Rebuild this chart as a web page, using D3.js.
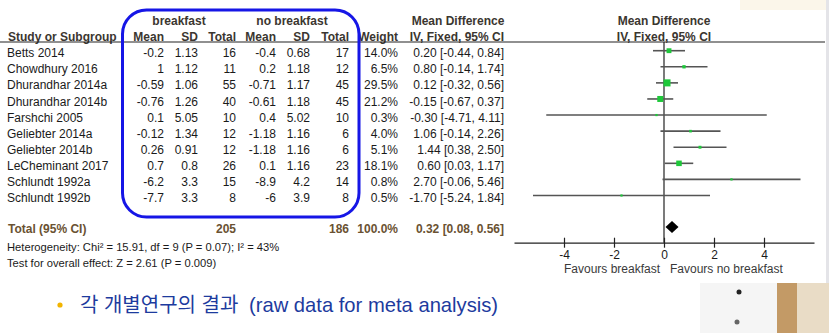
<!DOCTYPE html>
<html lang="ko">
<meta charset="utf-8">
<script src="https://d3js.org/d3.v7.min.js"></script>
<style>
  body { margin: 0; background: #fff; }
  svg text { font-family: "Liberation Sans", Arial, sans-serif; }
</style>
<svg id="base" width="829" height="333"></svg>

<script>
    var studies = ["Betts 2014", "Chowdhury 2016", "Dhurandhar 2014a", "Dhurandhar 2014b", "Farshchi 2005",
        "Geliebter 2014a", "Geliebter 2014b", "LeCheminant 2017", "Schlundt 1992a", "Schlundt 1992b"];
    var bMean = [-0.2, 1, -0.59, -0.76, 0.1, -0.12, 0.26, 0.7, -6.2, -7.7];
    var bSD = [1.13, 1.12, 1.06, 1.26, 5.05, 1.34, 0.91, 0.8, 3.3, 3.3];
    var bTotal = [16, 11, 55, 40, 10, 12, 12, 26, 15, 8];
    var nbMean = [-0.4, 0.2, -0.71, -0.61, 0.4, -1.18, -1.18, 0.1, -8.9, -6];
    var nbSD = [0.68, 1.18, 1.17, 1.18, 5.02, 1.16, 1.16, 1.16, 4.2, 3.9];
    var nbTotal = [17, 12, 45, 45, 10, 6, 6, 23, 14, 8];
    var weights = [14.0, 6.5, 29.5, 21.2, 0.3, 4.0, 5.1, 18.1, 0.8, 0.5];
    var md = [0.20, 0.80, 0.12, -0.15, -0.30, 1.06, 1.44, 0.60, 2.70, -1.70];
    var ciLo = [-0.44, -0.14, -0.32, -0.67, -4.71, -0.14, 0.38, 0.03, -0.06, -5.24];
    var ciHi = [0.84, 1.74, 0.56, 0.37, 4.11, 2.26, 2.50, 1.17, 5.46, 1.84];
    var total = { b: 205, nb: 186, weight: 100.0, md: 0.32, lo: 0.08, hi: 0.56 };
    var ticks = [-4, -2, 0, 2, 4];

    var svg = d3.select("#base");

    // background photo bits outside the white panel
    svg.append("rect").attr("x", 740).attr("y", 0).attr("width", 89).attr("height", 10).attr("fill", "#fbf6ea");
    svg.append("rect").attr("x", 826).attr("y", 0).attr("width", 3).attr("height", 333).attr("fill", "#e4e4e8");
    svg.append("rect").attr("x", 700).attr("y", 283).attr("width", 77).attr("height", 50).attr("fill", "#f5f5f5");
    svg.append("rect").attr("x", 777).attr("y", 283).attr("width", 20).attr("height", 50).attr("fill", "#c39a66");
    svg.append("rect").attr("x", 797).attr("y", 283).attr("width", 32).attr("height", 50).attr("fill", "#e9dcc6");
    svg.append("circle").attr("cx", 739).attr("cy", 292).attr("r", 2.5).attr("fill", "#222");
    svg.append("circle").attr("cx", 737).attr("cy", 322).attr("r", 2.5).attr("fill", "#666");

    var rowY = d3.scaleLinear().domain([0, 9]).range([50.7, 195.5]);
    var x = d3.scaleLinear().domain([-6, 6]).range([514, 814]);
    var headCol = "#3b3630";
    var totCol = "#6a5232";

    // table columns (right aligned numbers)
    var cols = [
        { x: 164, vals: bMean.map(String), head: "Mean" },
        { x: 198, vals: bSD.map(String), head: "SD" },
        { x: 236, vals: bTotal.map(String), head: "Total" },
        { x: 276, vals: nbMean.map(String), head: "Mean" },
        { x: 310, vals: nbSD.map(String), head: "SD" },
        { x: 349, vals: nbTotal.map(String), head: "Total" },
        { x: 398, vals: weights.map(function (d) { return d.toFixed(1) + "%"; }), head: "Weight" },
        { x: 504, vals: md.map(function (d, i) { return d.toFixed(2) + " [" + ciLo[i].toFixed(2) + ", " + ciHi[i].toFixed(2) + "]"; }), head: "IV, Fixed, 95% CI" }
    ];

    // header
    var head = svg.append("g").style("font-size", "12px").style("font-weight", "bold").attr("fill", headCol);
    head.append("text").attr("x", 179).attr("y", 25).attr("text-anchor", "middle").text("breakfast");
    head.append("text").attr("x", 292).attr("y", 25).attr("text-anchor", "middle").text("no breakfast");
    head.append("text").attr("x", 458).attr("y", 25).attr("text-anchor", "middle").text("Mean Difference");
    head.append("text").attr("x", 664).attr("y", 25).attr("text-anchor", "middle").text("Mean Difference");
    head.append("text").attr("x", 8).attr("y", 40.5).text("Study or Subgroup");
    head.selectAll(".ch").data(cols).enter().append("text")
        .attr("x", function (d) { return d.x; }).attr("y", 40.5).attr("text-anchor", "end")
        .text(function (d) { return d.head; });
    head.append("text").attr("x", 664).attr("y", 40.5).attr("text-anchor", "middle").text("IV, Fixed, 95% CI");

    svg.append("line").attr("x1", 0).attr("x2", 825).attr("y1", 42).attr("y2", 42)
        .attr("stroke", "#222").attr("stroke-width", 1.2);

    // rows
    var body = svg.append("g").style("font-size", "12px").attr("fill", "#1a1a1a");
    body.selectAll(".st").data(studies).enter().append("text")
        .attr("x", 7).attr("y", function (d, i) { return rowY(i) + 6.6; }).text(function (d) { return d; });
    cols.forEach(function (c) {
        body.selectAll(null).data(c.vals).enter().append("text")
            .attr("x", c.x).attr("y", function (d, i) { return rowY(i) + 6.6; })
            .attr("text-anchor", "end").text(function (d) { return d; });
    });

    // total row
    var tot = svg.append("g").style("font-size", "12px").style("font-weight", "bold").attr("fill", totCol);
    var ty = 232.5;
    tot.append("text").attr("x", 8).attr("y", ty).text("Total (95% CI)");
    tot.append("text").attr("x", 236).attr("y", ty).attr("text-anchor", "end").text(total.b);
    tot.append("text").attr("x", 349).attr("y", ty).attr("text-anchor", "end").text(total.nb);
    tot.append("text").attr("x", 398).attr("y", ty).attr("text-anchor", "end").text(total.weight.toFixed(1) + "%");
    tot.append("text").attr("x", 504).attr("y", ty).attr("text-anchor", "end")
        .text(total.md.toFixed(2) + " [" + total.lo.toFixed(2) + ", " + total.hi.toFixed(2) + "]");

    var foot = svg.append("g").style("font-size", "11.2px").attr("fill", "#1a1a1a");
    foot.append("text").attr("x", 7).attr("y", 250.5).text("Heterogeneity: Chi\u00b2 = 15.91, df = 9 (P = 0.07); I\u00b2 = 43%");
    foot.append("text").attr("x", 7).attr("y", 266.5).text("Test for overall effect: Z = 2.61 (P = 0.009)");

    // blue rounded box
    svg.append("rect").attr("x", 122.5).attr("y", 10).attr("width", 236.5).attr("height", 207)
        .attr("rx", 24).attr("ry", 24).attr("fill", "none").attr("stroke", "#1616e6").attr("stroke-width", 3);

    // forest plot
    var axisY = 242.7;
    svg.append("line").attr("x1", x(0)).attr("x2", x(0)).attr("y1", 42).attr("y2", axisY)
        .attr("stroke", "#222").attr("stroke-width", 1.2);

    var forest = svg.append("g");
    forest.selectAll(".ci").data(md).enter().append("line")
        .attr("x1", function (d, i) { return x(ciLo[i]); })
        .attr("x2", function (d, i) { return x(ciHi[i]); })
        .attr("y1", function (d, i) { return rowY(i); })
        .attr("y2", function (d, i) { return rowY(i); })
        .attr("stroke", "#555").attr("stroke-width", 1.6);
    forest.selectAll(".pt").data(md).enter().append("rect")
        .each(function (d, i) {
            var s = Math.max(2.2, 1.3 * Math.sqrt(weights[i]));
            d3.select(this).attr("x", x(d) - s / 2).attr("y", rowY(i) - s / 2)
                .attr("width", s).attr("height", s);
        })
        .attr("fill", "#1ec83a");

    var dy = 227;
    svg.append("path")
        .attr("d", "M" + (x(total.lo) - 0.5) + "," + dy + "L" + x(total.md) + "," + (dy - 6) +
            "L" + (x(total.hi) + 0.5) + "," + dy + "L" + x(total.md) + "," + (dy + 6) + "Z")
        .attr("fill", "#000");

    var ax = svg.append("g")
        .attr("transform", "translate(0," + axisY + ")")
        .call(d3.axisBottom(x).tickValues(ticks).tickSizeInner(5).tickSizeOuter(0)
            .tickFormat(function (d) { return d; }));
    ax.select(".domain").attr("stroke", "#222").attr("stroke-width", 1.2);
    ax.selectAll(".tick line").attr("y1", -5).attr("y2", 5).attr("stroke", "#222").attr("stroke-width", 1.2);
    ax.selectAll(".tick text").attr("y", 8).style("font-size", "12px")
        .style("font-family", "Liberation Sans, Arial, sans-serif").attr("fill", "#1a1a1a");

    var fav = svg.append("g").style("font-size", "12px").attr("fill", "#3a3a3a");
    fav.append("text").attr("x", 660).attr("y", 273).attr("text-anchor", "end").text("Favours breakfast");
    fav.append("text").attr("x", 670).attr("y", 273).text("Favours no breakfast");

    // slide caption
    svg.append("circle").attr("cx", 60).attr("cy", 305).attr("r", 2.6).attr("fill", "#f2b400");
    var cap = svg.append("text").attr("x", 80).attr("y", 312)
        .style("font-family", "'Liberation Sans', 'Noto Sans CJK KR', sans-serif").style("font-size", "20px")
        .attr("fill", "#1d3b9e");
    cap.append("tspan").text("각 개별연구의 결과");
    cap.append("tspan").attr("x", 249).style("font-size", "20.2px").text("(raw data for meta analysis)");
</script>
</html>
